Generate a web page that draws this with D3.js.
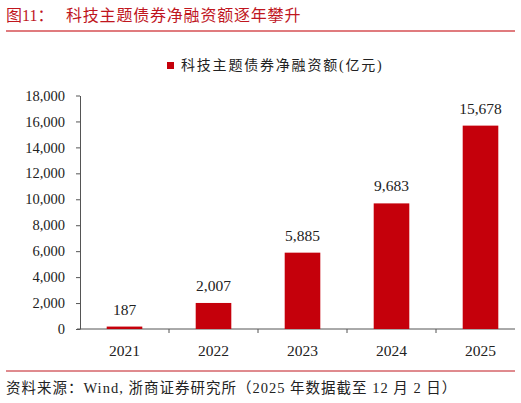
<!DOCTYPE html>
<html>
<head>
<meta charset="utf-8">
<script src="https://cdn.jsdelivr.net/npm/d3@7"></script>
<style>
  body { margin: 0; background: #fff; }
  text { font-family: "Liberation Serif", "Noto Sans CJK SC", serif; }
</style>
</head>
<body>
<div id="chart"></div>
<script>
// chart data
const years = ["2021", "2022", "2023", "2024", "2025"];
const netFinancing = [187, 2007, 5885, 9683, 15678];
const yTicks = [0, 2000, 4000, 6000, 8000, 10000, 12000, 14000, 16000, 18000];
const seriesName = "科技主题债券净融资额(亿元)";
const titleNo = "图11：";
const titleText = "科技主题债券净融资额逐年攀升";
const sourceText = "资料来源：Wind, 浙商证券研究所（2025 年数据截至 12 月 2 日）";

const W = 521, H = 403;
const red = "#c5000b";
const fmt = d3.format(",");

const svg = d3.select("#chart").append("svg")
  .attr("width", W)
  .attr("height", H);

// title + rules
svg.append("text")
  .attr("x", 6).attr("y", 21)
  .attr("fill", "#c0161e")
  .style("font-size", "16px")
  .text(titleNo);
svg.append("text")
  .attr("x", 66).attr("y", 21)
  .attr("fill", "#c0161e")
  .style("font-size", "16px")
  .style("letter-spacing", "0.8px")
  .text(titleText);
svg.append("line")
  .attr("x1", 6).attr("x2", 515).attr("y1", 31).attr("y2", 31)
  .attr("stroke", "#e07b7e").attr("stroke-width", 2);
svg.append("line")
  .attr("x1", 6).attr("x2", 515).attr("y1", 371).attr("y2", 371)
  .attr("stroke", "#c0161e").attr("stroke-width", 1);
svg.append("text")
  .attr("x", 6).attr("y", 393)
  .attr("fill", "#222")
  .style("font-size", "14.5px")
  .style("letter-spacing", "1px")
  .text(sourceText);

// legend
svg.append("rect")
  .attr("x", 167).attr("y", 62).attr("width", 7).attr("height", 7)
  .attr("fill", red);
svg.append("text")
  .attr("x", 181).attr("y", 70)
  .attr("fill", "#222")
  .style("font-size", "14px")
  .style("letter-spacing", "1.8px")
  .text(seriesName);

// scales
const x = d3.scaleBand()
  .domain(years)
  .range([80, 525])
  .padding(0);
const y = d3.scaleLinear()
  .domain([0, 18000])
  .range([329, 95.5]);

// y axis
const yAxis = svg.append("g")
  .attr("transform", "translate(80,0)")
  .call(d3.axisLeft(y).tickValues(yTicks).tickFormat(fmt).tickSize(4).tickSizeOuter(0));
yAxis.select(".domain").attr("stroke", "#555");
yAxis.selectAll(".tick line").attr("stroke", "#555");
yAxis.selectAll(".tick text")
  .attr("x", -15)
  .attr("fill", "#222")
  .style("font-family", "Liberation Serif")
  .style("font-size", "14.5px");

// x axis: ticks at band boundaries
const xg = svg.append("g");
xg.append("line")
  .attr("x1", 77).attr("x2", 515).attr("y1", y(0)).attr("y2", y(0))
  .attr("stroke", "#555");
xg.selectAll("line.sep")
  .data(years.slice(1))
  .enter().append("line")
    .attr("class", "sep")
    .attr("x1", d => x(d)).attr("x2", d => x(d))
    .attr("y1", y(0)).attr("y2", y(0) + 4)
    .attr("stroke", "#555");
xg.selectAll("text")
  .data(years)
  .enter().append("text")
    .attr("x", d => x(d) + x.bandwidth() / 2)
    .attr("y", 356)
    .attr("text-anchor", "middle")
    .attr("fill", "#222")
    .style("font-size", "15.5px")
    .text(d => d);

// bars
const barW = x.bandwidth() * 0.4;
const data = years.map((yr, i) => ({ year: yr, value: netFinancing[i] }));

svg.append("g")
  .selectAll("rect")
  .data(data)
  .enter().append("rect")
    .attr("x", d => x(d.year) + (x.bandwidth() - barW) / 2)
    .attr("y", d => y(d.value))
    .attr("width", barW)
    .attr("height", d => y(0) - y(d.value))
    .attr("fill", red);

// value labels
svg.append("g")
  .selectAll("text")
  .data(data)
  .enter().append("text")
    .attr("x", d => x(d.year) + x.bandwidth() / 2)
    .attr("y", d => y(d.value) - 12)
    .attr("text-anchor", "middle")
    .attr("fill", "#222")
    .style("font-size", "15.5px")
    .text(d => fmt(d.value));
</script>
</body>
</html>
